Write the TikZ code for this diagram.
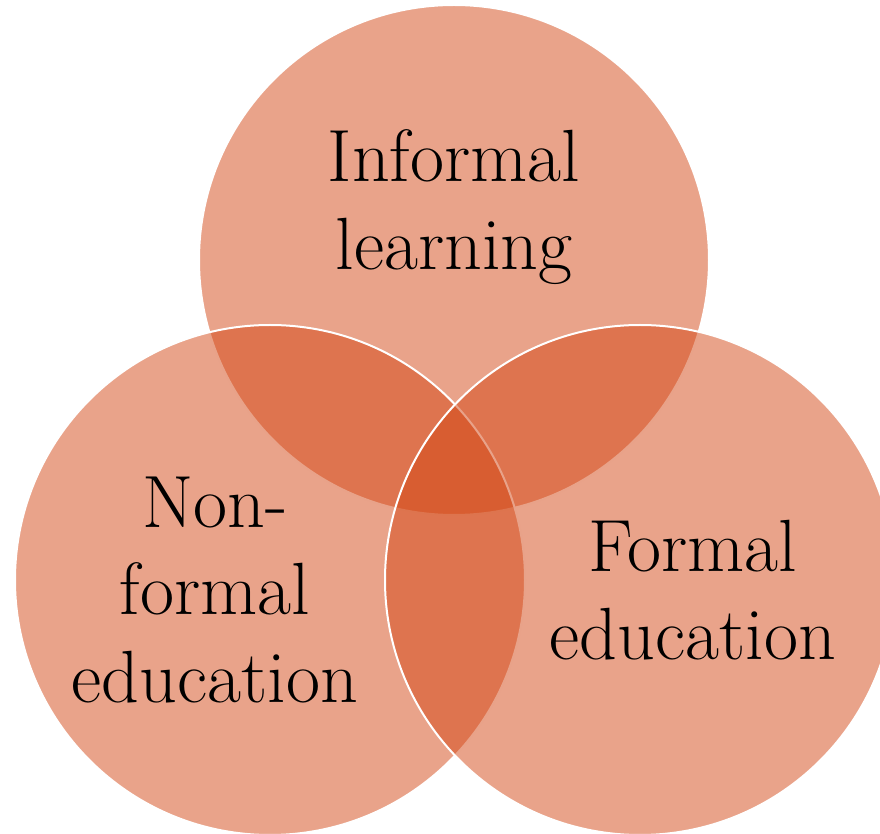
\documentclass[tikz,border=0pt]{standalone}
\usepackage{tikz}
\definecolor{vennorange}{HTML}{D34715}
\tikzset{
  venn/.style={circle, minimum size=255pt, inner sep=0pt, fill=vennorange,
    fill opacity=0.5, draw=white, draw opacity=1, line width=1pt},
  vlabel/.style={align=center, anchor=base, inner sep=0pt, text=black,
    font=\fontsize{37}{44}\selectfont},
}

\begin{document}
\begin{tikzpicture}[x=0.5pt, y=-0.5pt]
    \useasboundingbox (0,0) rectangle (880,834);

    % three sets, drawn top, left, right
    \node[venn] (informal) at (454,260) {};
    \node[venn] (nonformal) at (270,580) {};
    \node[venn] (formal) at (640,580) {};

    % labels sit on the baseline of their last line
    \node[vlabel] (informaltxt) at (454,270) {Informal\\ learning};
    \node[vlabel] (nonformaltxt) at (215,703) {Non-\\ formal\\ education};
    \node[vlabel] (formaltxt) at (693,660) {Formal\\ education};
  \end{tikzpicture}
\end{document}
